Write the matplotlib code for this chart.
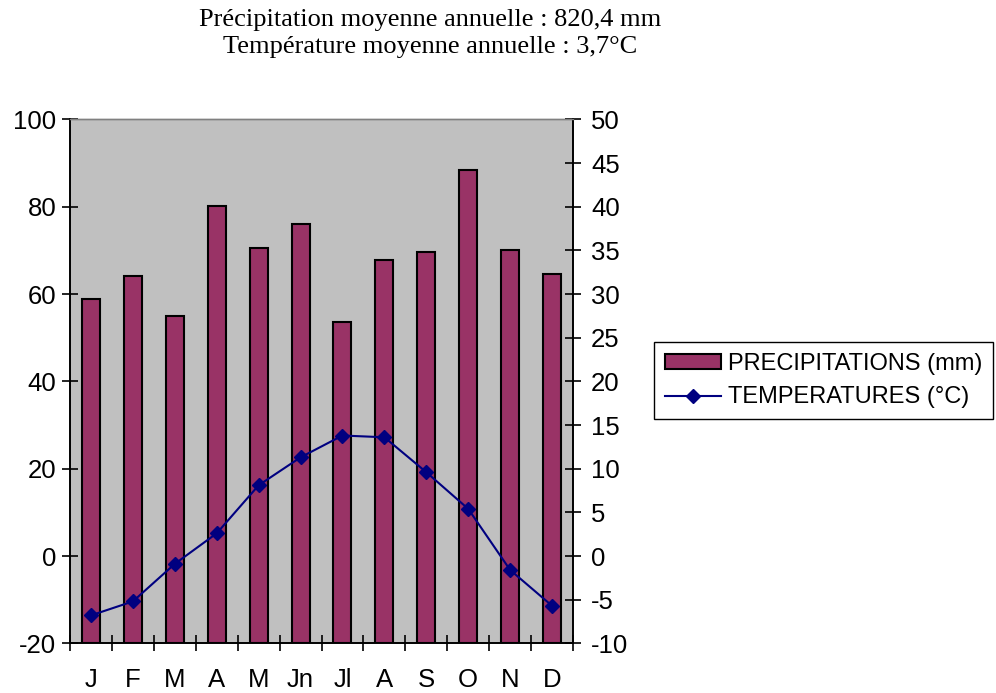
import numpy as np
import matplotlib
matplotlib.use("Agg")
import matplotlib.pyplot as plt

# --- Climate data (monthly) ---
months = ["J", "F", "M", "A", "M", "Jn", "Jl", "A", "S", "O", "N", "D"]
precip_mm = [58.8, 64.2, 55.0, 80.2, 70.6, 76.1, 53.7, 67.8, 69.7, 88.4, 70.1, 64.6]
temp_c = [-6.8, -5.2, -0.9, 2.6, 8.1, 11.3, 13.8, 13.6, 9.6, 5.4, -1.6, -5.7]

title_lines = ["Précipitation moyenne annuelle : 820,4 mm",
               "Température moyenne annuelle : 3,7°C"]

bar_color = "#993366"
line_color = "#000080"
bg_color = "#C0C0C0"

plt.rcParams["font.family"] = ["Liberation Sans", "DejaVu Sans"]
plt.rcParams["axes.unicode_minus"] = False

fig = plt.figure(figsize=(9.96, 6.93), dpi=100)
ax = fig.add_axes([0.0703, 0.0717, 0.5050, 0.7559])
ax.set_facecolor(bg_color)

x = np.arange(len(months))
p_min, p_max = -20, 100
t_min, t_max = -10, 50

# bars start from the bottom of the left axis
bars = ax.bar(x, np.array(precip_mm) - p_min, bottom=p_min, width=0.43,
              color=bar_color, edgecolor="black", linewidth=1.5,
              label="PRECIPITATIONS (mm)", zorder=2)
ax.set_xlim(-0.5, len(months) - 0.5)
ax.set_ylim(p_min, p_max)
ax.set_yticks(np.arange(p_min, p_max + 1, 20))

# month labels centred, tick marks between months
ax.set_xticks(np.arange(-0.5, len(months), 1.0))
ax.set_xticklabels([])
ax.set_xticks(x, minor=True)
ax.set_xticklabels(months, minor=True)
ax.tick_params(axis="x", which="minor", length=0, pad=18, labelsize=18.5)
ax.tick_params(axis="x", which="major", direction="inout", length=12, width=1.2)
ax.tick_params(axis="y", direction="inout", length=12, width=1.2, pad=4, labelsize=18.5)

ax2 = ax.twinx()
line, = ax2.plot(x, temp_c, color=line_color, linewidth=1.5, marker="D",
                 markersize=7, label="TEMPERATURES (°C)", zorder=3)
ax2.set_ylim(t_min, t_max)
ax2.set_yticks(np.arange(t_min, t_max + 1, 5))
ax2.tick_params(axis="y", direction="inout", length=12, width=1.2, pad=7, labelsize=18.5)

for a in (ax, ax2):
    for side in ("left", "right", "bottom"):
        a.spines[side].set_color("black")
        a.spines[side].set_linewidth(1.2)
    a.spines["top"].set_color("#808080")
    a.spines["top"].set_linewidth(1.0)

# two-line title in a serif face
for i, y_px in enumerate((20, 47)):
    fig.text(430 / 996, 1 - y_px / 693, title_lines[i], ha="center", va="center",
             fontsize=19, family=["Liberation Serif", "DejaVu Serif"])

leg = fig.legend(handles=[bars, line], loc="upper left",
                 bbox_to_anchor=(654 / 996, 1 - 342 / 693),
                 fontsize=17, frameon=True, fancybox=False, shadow=False,
                 edgecolor="black", framealpha=1, borderpad=0.45,
                 borderaxespad=0, handlelength=2.4, handleheight=0.6,
                 handletextpad=0.3, labelspacing=0.5)
leg.get_frame().set_linewidth(1.0)

plt.savefig("out.png", dpi=100)
